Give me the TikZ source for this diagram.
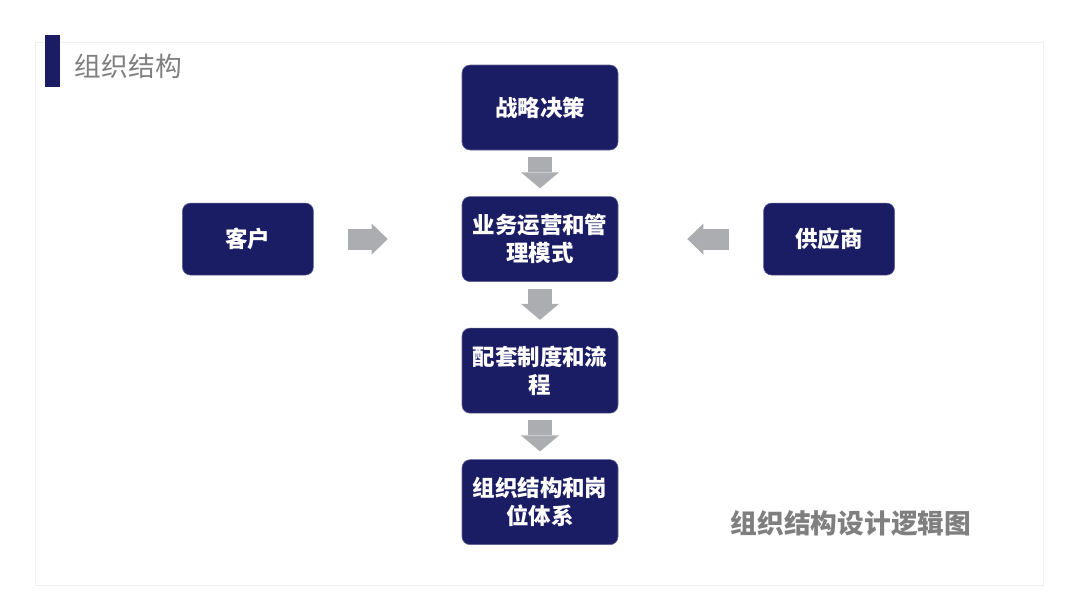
\documentclass[tikz,border=0pt]{standalone}
\usepackage{fontspec}
\setmainfont{Noto Sans CJK SC}
\usetikzlibrary{arrows.meta, positioning}
\definecolor{navy}{HTML}{1A1D64}
\definecolor{arrowgray}{HTML}{ABADB0}
\definecolor{textgray}{HTML}{7F7F7F}
\tikzset{
  block/.style={rectangle, draw=navy!70!white, fill=navy, rounded corners=0.2cm,
                minimum width=3.9cm, minimum height=2.125cm, text centered,
                align=center, text=white, font=\fontsize{16}{20}\selectfont\bfseries},
  sideblock/.style={block, minimum width=3.275cm, minimum height=1.8cm},
  flowdown/.style={-{Triangle[width=0.95cm, length=0.4cm, line width=0pt]},
                   line width=0.6cm, draw=arrowgray},
  flowside/.style={-{Triangle[width=0.775cm, length=0.4cm, line width=0pt]},
                   line width=0.525cm, draw=arrowgray}
}

\begin{document}
\begin{tikzpicture}[node distance=1.15cm and 3.7cm]
    \useasboundingbox (0,0) rectangle (27,-15.2);
    \draw[black!6] (0.875,-1.05) rectangle (26.075,-14.625);
    \fill[navy] (1.125,-0.875) rectangle (1.5,-2.175);
    \node[anchor=west, text=textgray, font=\fontsize{19}{23}\selectfont] (title) at (1.75,-1.65) {组织结构};

    \node[block] (strategy) at (13.5,-2.6875) {战略决策};
    \node[block, below=of strategy] (operation) {业务运营和管\\理模式};
    \node[block, below=of operation] (system) {配套制度和流\\程};
    \node[block, below=of system] (structure) {组织结构和岗\\位体系};
    \node[sideblock, left=of operation] (customer) {客户};
    \node[sideblock, right=3.625cm of operation] (supplier) {供应商};

    \node[text=textgray, font=\fontsize{19}{23}\selectfont\bfseries] (caption) at (21.275,-13.075) {组织结构设计逻辑图};

    \draw[flowdown, shorten <=0.175cm, shorten >=0.2cm] (strategy) -- (operation);
    \draw[flowdown, shorten <=0.175cm, shorten >=0.2cm] (operation) -- (system);
    \draw[flowdown, shorten <=0.175cm, shorten >=0.2cm] (system) -- (structure);
    \draw[flowside, shorten <=0.85cm, shorten >=1.85cm] (customer) -- (operation);
    \draw[flowside, shorten <=0.85cm, shorten >=1.725cm] (supplier) -- (operation);
\end{tikzpicture}
\end{document}
